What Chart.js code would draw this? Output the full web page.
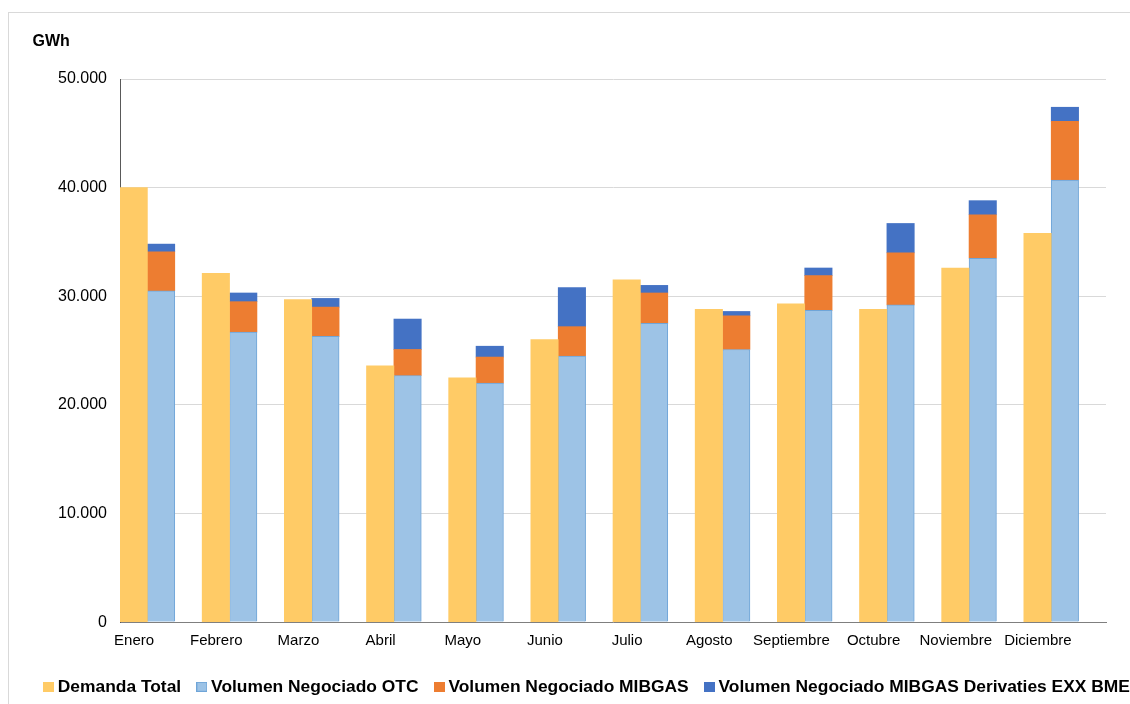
<!DOCTYPE html>
<html lang="es">
<head>
<meta charset="utf-8">
<title>Demanda y volumen negociado de gas (GWh)</title>
<script src="https://cdn.jsdelivr.net/npm/chart.js@4.4.1/dist/chart.umd.min.js"></script>
<style>
  html, body { margin: 0; padding: 0; background: #ffffff; overflow: hidden; }
  body { width: 1130px; height: 704px; position: relative; }
  #marco {
    position: absolute; left: 8px; top: 12px; width: 1200px; height: 800px;
    border-left: 1px solid #d9d9d9; border-top: 1px solid #d9d9d9;
  }
  #lienzo { position: absolute; left: 0; top: 0; width: 1178px; height: 704px; }
</style>
</head>
<body>
<div id="marco"></div>
<div id="lienzo"><canvas id="grafico" width="1178" height="704"></canvas></div>
<script>
// Meses del año
const meses = ['Enero', 'Febrero', 'Marzo', 'Abril', 'Mayo', 'Junio', 'Julio',
               'Agosto', 'Septiembre', 'Octubre', 'Noviembre', 'Diciembre'];

// Valores mensuales en GWh
const demandaTotal    = [40000, 32100, 29700, 23600, 22500, 26000, 31500, 28800, 29300, 28800, 32600, 35800];
const volumenOTC      = [30500, 26700, 26300, 22700, 22000, 24500, 27500, 25100, 28700, 29200, 33500, 40700];
const volumenMIBGAS   = [3600, 2800, 2700, 2400, 2400, 2700, 2800, 3100, 3200, 4800, 4000, 5400];
const volumenDerivEXX = [700, 800, 800, 2800, 1000, 3600, 700, 400, 700, 2700, 1300, 1300];

// Eje de valores
const ejeMax = 50000;
const ejePaso = 10000;

const fuente = "'Liberation Sans', Arial, sans-serif";

function miles(v) {
  return String(v).replace(/\B(?=(\d{3})+(?!\d))/g, '.');
}

// Cuadrado de color para la leyenda (pegado al texto)
function marcador(relleno, borde) {
  const c = document.createElement('canvas');
  c.width = 11; c.height = 10;
  const g = c.getContext('2d');
  g.fillStyle = relleno;
  g.fillRect(0, 0, 11, 10);
  if (borde) {
    g.strokeStyle = borde;
    g.lineWidth = 1;
    g.strokeRect(0.5, 0.5, 10, 9);
  }
  return c;
}

// Etiqueta de unidades en la esquina superior izquierda
const unidades = {
  id: 'unidades',
  afterDraw(chart) {
    const ctx = chart.ctx;
    ctx.save();
    ctx.font = 'bold 16px ' + fuente;
    ctx.fillStyle = '#000000';
    ctx.textAlign = 'left';
    ctx.textBaseline = 'alphabetic';
    ctx.fillText('GWh', 32.5, 46);
    ctx.restore();
  }
};

const series = [
  { label: 'Demanda Total', data: demandaTotal, stack: 'demanda',
    backgroundColor: '#FFCB66', borderWidth: 0 },
  { label: 'Volumen Negociado OTC', data: volumenOTC, stack: 'volumen',
    backgroundColor: '#9DC3E6', borderColor: '#6FA5D8', borderWidth: 1 },
  { label: 'Volumen Negociado MIBGAS', data: volumenMIBGAS, stack: 'volumen',
    backgroundColor: '#ED7D31', borderWidth: 0 },
  { label: 'Volumen Negociado MIBGAS Derivaties EXX BME', data: volumenDerivEXX, stack: 'volumen',
    backgroundColor: '#4472C4', borderWidth: 0 },
  // hueco a la derecha de cada mes
  { label: '', data: meses.map(() => null), stack: 'hueco', backgroundColor: 'rgba(0,0,0,0)' }
];

const marcadores = series.map(s => marcador(s.backgroundColor, s.borderWidth ? s.borderColor : null));

new Chart(document.getElementById('grafico'), {
  type: 'bar',
  data: { labels: meses, datasets: series },
  options: {
    responsive: false,
    animation: false,
    devicePixelRatio: 1,
    layout: { padding: { top: 79, left: 0, right: 0, bottom: -1.5 } },
    datasets: { bar: { categoryPercentage: 1.0, barPercentage: 1.0 } },
    scales: {
      x: {
        stacked: true,
        grid: { display: false, drawTicks: false },
        border: { display: true, color: '#7f7f7f', width: 1 },
        ticks: {
          color: '#000000', font: { family: fuente, size: 15 },
          padding: 10, labelOffset: -27, maxRotation: 0, autoSkip: false
        },
        afterFit(scale) { scale.height = 35.8; }
      },
      y: {
        stacked: true,
        min: 0, max: ejeMax,
        grid: { color: '#d9d9d9', lineWidth: 1, drawTicks: false },
        border: { display: true, color: '#595959', width: 1 },
        ticks: {
          stepSize: ejePaso, color: '#000000', font: { family: fuente, size: 16 },
          padding: 13, callback: (v) => miles(v)
        },
        afterFit(scale) { scale.width = 120; }
      },
      derecha: {
        position: 'right',
        display: true,
        grid: { display: false, drawTicks: false },
        border: { display: false },
        ticks: { display: false },
        afterFit(scale) { scale.width = 72; }
      }
    },
    plugins: {
      legend: {
        position: 'bottom',
        labels: {
          color: '#000000',
          font: { family: fuente, size: 17.4, weight: 'bold' },
          usePointStyle: true,
          boxWidth: 1, boxHeight: 10, padding: 20.2,
          generateLabels(chart) {
            const base = Chart.defaults.plugins.legend.labels.generateLabels(chart);
            return base
              .filter(it => it.text !== '')
              .map(it => Object.assign(it, { pointStyle: marcadores[it.datasetIndex] }));
          }
        }
      },
      tooltip: { enabled: false },
      title: { display: false }
    }
  },
  plugins: [unidades]
});
</script>
</body>
</html>
